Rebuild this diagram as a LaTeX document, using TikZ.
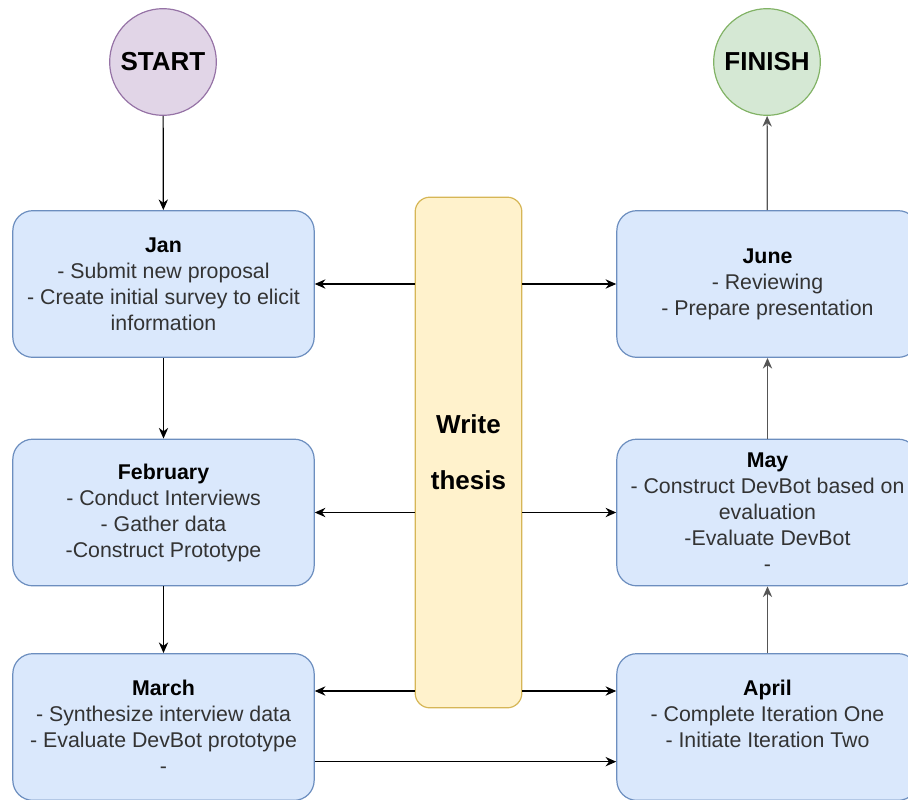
\documentclass[tikz,border=0pt]{standalone}
\usepackage{fontspec}
\setmainfont{Liberation Sans}
\usepackage{xcolor}
\usetikzlibrary{shapes.geometric, arrows.meta, positioning, calc}
\definecolor{monthfill}{HTML}{DAE8FC}
\definecolor{monthdraw}{HTML}{6C8EBF}
\definecolor{startfill}{HTML}{E1D5E7}
\definecolor{startdraw}{HTML}{9673A6}
\definecolor{finishfill}{HTML}{D5E8D4}
\definecolor{finishdraw}{HTML}{82B366}
\definecolor{thesisfill}{HTML}{FFF2CC}
\definecolor{thesisdraw}{HTML}{D6B656}
\definecolor{textdark}{HTML}{333333}
\definecolor{arrowgray}{HTML}{555555}

\begin{document}
\begin{tikzpicture}[x=0.75pt, y=0.75pt,
  month/.style={rectangle, draw=monthdraw, fill=monthfill, rounded corners=15pt, minimum width=226pt, minimum height=110pt, align=center, font=\fontsize{16}{19.5}\selectfont, text=textdark, line width=0.9pt, inner sep=0pt},
  terminal/.style={circle, minimum size=80pt, inner sep=0pt, font=\fontsize{19.5}{23}\selectfont\bfseries, line width=0.9pt},
  thesisbox/.style={rectangle, draw=thesisdraw, fill=thesisfill, rounded corners=11pt, minimum width=80pt, minimum height=383pt, align=center, font=\fontsize{19.5}{42}\selectfont\bfseries, line width=0.9pt},
  arrow/.style={-{Stealth[length=8pt, width=7pt]}, line width=0.9pt, draw=black},
  grayarrow/.style={arrow, draw=arrowgray}
]
  \useasboundingbox (0,0) rectangle (908,-800);
  \clip (0,0) rectangle (908,-800);

  % Start and finish
  \node[terminal, draw=startdraw, fill=startfill] (start) at (163, -62) {START};
  \node[terminal, draw=finishdraw, fill=finishfill] (finish) at (767, -62) {FINISH};

  % Months
  \node[month] (jan) at (163.5, -284) {\textcolor{black}{\textbf{Jan}}\\- Submit new proposal\\- Create initial survey to elicit\\information};
  \node[month] (feb) at (163.5, -512.5) {\textcolor{black}{\textbf{February}}\\- Conduct Interviews\\- Gather data\\-Construct Prototype};
  \node[month] (mar) at (163.5, -727) {\textcolor{black}{\textbf{March}}\\- Synthesize interview data\\- Evaluate DevBot prototype\\-};
  \node[month] (apr) at (767.5, -727) {\textcolor{black}{\textbf{April}}\\- Complete Iteration One\\- Initiate Iteration Two\\\mbox{}};
  \node[month] (may) at (767.5, -512.5) {\textcolor{black}{\textbf{May}}\\- Construct DevBot based on\\evaluation\\-Evaluate DevBot\\-};
  \node[month] (jun) at (767.5, -284) {\textcolor{black}{\textbf{June}}\\- Reviewing\\- Prepare presentation};

  % Thesis
  \node[thesisbox] (thesis) at (468.5, -452.5) {Write\\thesis};

  % Arrows
  \draw[arrow] (start) -- (jan);
  \draw[arrow] (jan) -- (feb);
  \draw[arrow] (feb) -- (mar);
  \draw[arrow] ([yshift=-26pt]mar.east) -- ([yshift=-26pt]mar.east -| apr.west);
  \draw[grayarrow] (apr) -- (may);
  \draw[grayarrow] (may) -- (jun);
  \draw[grayarrow] (jun) -- (finish);

  \draw[arrow] (thesis.west |- jan.east) -- (jan.east);
  \draw[arrow] (thesis.west |- feb.east) -- (feb.east);
  \draw[arrow] ([yshift=27pt]mar.east -| thesis.west) -- ([yshift=27pt]mar.east);
  \draw[arrow] (thesis.east |- jun.west) -- (jun.west);
  \draw[arrow] (thesis.east |- may.west) -- (may.west);
  \draw[arrow] ([yshift=27pt]apr.west -| thesis.east) -- ([yshift=27pt]apr.west);
\end{tikzpicture}
\end{document}
